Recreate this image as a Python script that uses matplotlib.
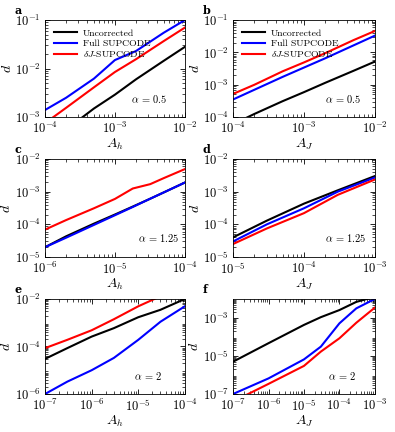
import matplotlib
matplotlib.use("Agg")
import matplotlib.pyplot as plt
import matplotlib.ticker as mticker

plt.rcParams['font.family'] = 'serif'
plt.rcParams['font.serif'] = ['cmr10', 'DejaVu Serif']
plt.rcParams['mathtext.fontset'] = 'cm'
plt.rcParams['axes.formatter.use_mathtext'] = True

# panel a
a_x = [1e-4, 2e-4, 5e-4, 1e-3, 2e-3, 5e-3, 1e-2]
a_unc = [2.5e-4, 5.5e-4, 1.5e-3, 2.9e-3, 6e-3, 1.45e-2, 2.8e-2]
a_full = [1.4e-3, 2.5e-3, 6.2e-3, 1.5e-2, 2.3e-2, 5.5e-2, 1.0e-1]
a_dj = [7.5e-4, 1.55e-3, 4.1e-3, 8.5e-3, 1.56e-2, 3.7e-2, 7e-2]

# panel b
b_x = [1e-4, 2e-4, 5e-4, 1e-3, 2e-3, 5e-3, 1e-2]
b_unc = [6e-5, 1.25e-4, 3.1e-4, 5.9e-4, 1.15e-3, 2.7e-3, 5.2e-3]
b_full = [3.5e-4, 7e-4, 1.75e-3, 3.4e-3, 6.6e-3, 1.65e-2, 3.3e-2]
b_dj = [5.2e-4, 1.0e-3, 2.6e-3, 4.9e-3, 9.5e-3, 2.4e-2, 4.6e-2]

# panel c
c_x = [1e-6, 2e-6, 5e-6, 1e-5, 1.8e-5, 3.2e-5, 5e-5, 1e-4]
c_unc = [2e-5, 4.3e-5, 1.05e-4, 2e-4, 3.5e-4, 6.1e-4, 9.5e-4, 1.9e-3]
c_full = [2e-5, 3.9e-5, 9.6e-5, 1.9e-4, 3.4e-4, 6.1e-4, 9.5e-4, 1.9e-3]
c_dj = [6.9e-5, 1.35e-4, 3.1e-4, 6e-4, 1.25e-3, 1.7e-3, 2.6e-3, 4.9e-3]

# panel d
d_x = [1e-5, 3e-5, 1e-4, 3e-4, 1e-3]
d_unc = [4e-5, 1.3e-4, 4.3e-4, 1.1e-3, 3e-3]
d_full = [3e-5, 1e-4, 3.1e-4, 1e-3, 2.7e-3]
d_dj = [2.5e-5, 7.5e-5, 2.2e-4, 8e-4, 2.35e-3]

# panel e
e_x = [1e-7, 3e-7, 1e-6, 3e-6, 1e-5, 3e-5, 1e-4]
e_unc = [3e-5, 8.5e-5, 2.6e-4, 5.9e-4, 1.7e-3, 3.5e-3, 1e-2]
e_full = [1e-6, 3.3e-6, 1e-5, 3.3e-5, 1.9e-4, 1.1e-3, 4.9e-3]
e_dj = [8.5e-5, 1.9e-4, 4.8e-4, 1.4e-3, 4.9e-3, 1.3e-2, 3e-2]

# panel f
f_x = [1e-7, 1e-6, 1e-5, 3e-5, 1e-4, 3e-4, 1e-3]
f_unc = [5e-6, 4.7e-5, 4.3e-4, 1.1e-3, 2.6e-3, 7e-3, 1.3e-2]
f_full = [1e-7, 6.6e-7, 6.6e-6, 3.1e-5, 5.2e-4, 3.2e-3, 1e-2]
f_dj = [4e-8, 3.4e-7, 3e-6, 1.7e-5, 8.5e-5, 5.6e-4, 3.5e-3]

labels = ['Uncorrected', 'Full SUPCODE', r'$\delta J$-SUPCODE']
colors = ['black', 'blue', 'red']

# letter, x, series, xlim, ylim, xticks, yticks, xlabel, alpha text, alpha x
panels = [
    ('a', a_x, [a_unc, a_full, a_dj], (1e-4, 1e-2), (1e-3, 1e-1),
     [1e-4, 1e-3, 1e-2], [1e-3, 1e-2, 1e-1], r'$A_h$', r'$\alpha\,=\,0.5$', 0.87),
    ('b', b_x, [b_unc, b_full, b_dj], (1e-4, 1e-2), (1e-4, 1e-1),
     [1e-4, 1e-3, 1e-2], [1e-4, 1e-3, 1e-2, 1e-1], r'$A_J$', r'$\alpha\,=\,0.5$', 0.90),
    ('c', c_x, [c_unc, c_full, c_dj], (1e-6, 1e-4), (1e-5, 1e-2),
     [1e-6, 1e-5, 1e-4], [1e-5, 1e-4, 1e-3, 1e-2], r'$A_h$', r'$\alpha\,=\,1.25$', 0.96),
    ('d', d_x, [d_unc, d_full, d_dj], (1e-5, 1e-3), (1e-5, 1e-2),
     [1e-5, 1e-4, 1e-3], [1e-5, 1e-4, 1e-3, 1e-2], r'$A_J$', r'$\alpha\,=\,1.25$', 0.94),
    ('e', e_x, [e_unc, e_full, e_dj], (1e-7, 1e-4), (1e-6, 1e-2),
     [1e-7, 1e-6, 1e-5, 1e-4], [1e-6, 1e-4, 1e-2], r'$A_h$', r'$\alpha\,=\,2$', 0.84),
    ('f', f_x, [f_unc, f_full, f_dj], (1e-7, 1e-3), (1e-7, 1e-2),
     [1e-7, 1e-6, 1e-5, 1e-4, 1e-3], [1e-7, 1e-5, 1e-3], r'$A_J$', r'$\alpha\,=\,2$', 0.865),
]

lefts = [0.114, 0.590]
bottoms = [0.729, 0.405, 0.088]
heights = [0.2245, 0.227, 0.22]
widths = [0.354, 0.359]

fig = plt.figure(figsize=(3.95, 4.32), dpi=100)

for i, (letter, x, ys, xl, yl, xt, yt, xlab, alab, ax_x) in enumerate(panels):
    r, c = divmod(i, 2)
    ax = fig.add_axes([lefts[c], bottoms[r], widths[c], heights[r]])
    for y, col, lab in zip(ys, colors, labels):
        ax.plot(x, y, color=col, lw=1.5, label=lab)
    ax.set_xscale('log')
    ax.set_yscale('log')
    ax.set_xticks(xt)
    ax.set_yticks(yt)
    ax.set_xlim(*xl)
    ax.set_ylim(*yl)
    ax.xaxis.set_minor_locator(mticker.LogLocator(subs=range(2, 10), numticks=30))
    ax.yaxis.set_minor_locator(mticker.LogLocator(subs=range(2, 10), numticks=30))
    ax.yaxis.set_minor_formatter(mticker.NullFormatter())
    ax.xaxis.set_minor_formatter(mticker.NullFormatter())
    ax.tick_params(which='both', direction='in', top=True, right=True, labelsize=9, pad=3)
    ax.tick_params(which='major', length=3.5, width=0.6)
    ax.tick_params(which='minor', length=2, width=0.5)
    for s in ax.spines.values():
        s.set_linewidth(0.6)
    ax.set_xlabel(xlab, fontsize=10, labelpad=0)
    ax.set_ylabel(r'$d$', fontsize=10, labelpad=1)
    ax.text(ax_x, 0.19, alab, transform=ax.transAxes, ha='right', va='center', fontsize=7.5)
    fig.text(lefts[c] - 0.078, bottoms[r] + heights[r] + 0.022, letter,
             fontsize=8, fontweight='bold', family='DejaVu Serif', ha='left', va='center')
    if i < 2:
        ax.legend(loc='upper left', fontsize=7, frameon=False, handlelength=2.4,
                  borderaxespad=0.5, labelspacing=0.15, handletextpad=0.6)

fig.savefig('out.png', dpi=100)
